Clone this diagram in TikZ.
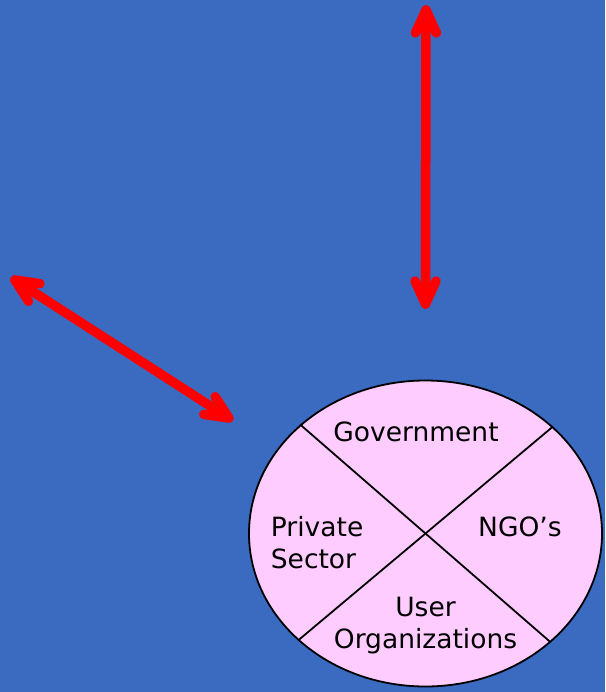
\documentclass[tikz,border=0pt]{standalone}
\usepackage{fontspec}
\setmainfont{DejaVu Sans}
\usetikzlibrary{calc,shapes.geometric}
\definecolor{bgblue}{RGB}{58,107,192}
\definecolor{pinkfill}{RGB}{255,204,255}
\definecolor{arrred}{RGB}{255,0,0}
\begin{document}
\begin{tikzpicture}[x=1pt,y=-1pt,
  redline/.style={draw=arrred,line width=9.5pt,line cap=round,line join=round},
  label/.style={font=\fontsize{26.5}{31.5}\selectfont,inner sep=0pt,text=black},
  divider/.style={draw=black,line width=1.8pt}]
\fill[bgblue] (0,0) rectangle (605,692);
\useasboundingbox (0,0) rectangle (605,692);
% arrows
\coordinate (vtop) at (426,5);
\coordinate (vbot) at (425.5,309);
\coordinate (dtl) at (10.7,277.3);
\coordinate (dbr) at (233,420.7);
\draw[redline] ($(vtop)!5pt!(vbot)$) -- ($(vbot)!5pt!(vtop)$);
\draw[redline] ($(dtl)!5pt!(dbr)$) -- ($(dbr)!5pt!(dtl)$);
\foreach \a/\b in {vtop/vbot, vbot/vtop, dtl/dbr, dbr/dtl}
  \draw[redline] ($(\a)!28pt!(\b)!10.5pt!90:(\b)$) -- ($(\a)!5pt!(\b)$) -- ($(\a)!28pt!(\b)!10.5pt!-90:(\b)$);
% circle
\node[ellipse,draw=black,line width=1.8pt,fill=pinkfill,minimum width=353pt,minimum height=306pt,inner sep=0pt] (circ) at (425.5,533.5) {};
\draw[divider] (circ.40.9) -- (circ.220.9);
\draw[divider] (circ.139.1) -- (circ.319.1);
% labels
\node[label,anchor=base] (gov) at (416,441.7) {Government};
\node[label,anchor=base west,align=left] (priv) at (270.7,568) {Private\\Sector};
\node[label,anchor=base west] (ngo) at (478,536.7) {NGO’s};
\node[label,anchor=base,align=center] (user) at (425.5,648) {User\\Organizations};
\end{tikzpicture}
\end{document}
